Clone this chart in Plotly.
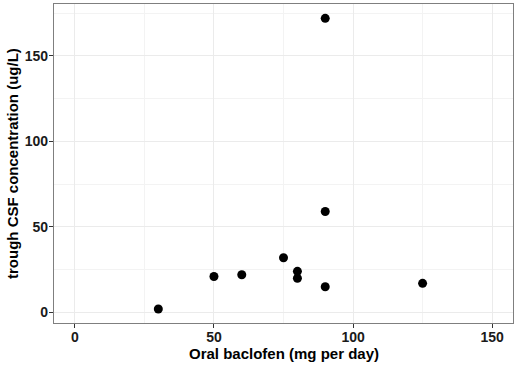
import plotly.graph_objects as go

dose_mg_per_day = [30, 50, 60, 75, 80, 80, 90, 90, 90, 125]
csf_ug_per_l = [2, 21, 22, 32, 24, 20, 59, 15, 172, 17]
x_ticks = [0, 50, 100, 150]
y_ticks = [0, 50, 100, 150]

FONT = "Liberation Sans, Arial, sans-serif"

fig = go.Figure(go.Scatter(
    x=dose_mg_per_day, y=csf_ug_per_l, mode="markers",
    marker=dict(color="black", size=9, line=dict(width=0)),
    showlegend=False,
))

axis_common = dict(
    automargin=False,
    showgrid=True, gridcolor="#EBEBEB", gridwidth=1.1,
    zeroline=False, showline=True, mirror=True,
    linecolor="#7f7f7f", linewidth=1.3,
    ticks="outside", ticklen=4, tickcolor="#333333", tickwidth=1.1,
    tickfont=dict(family=FONT, size=14, color="#1a1a1a", weight="bold"),
    minor=dict(showgrid=True, gridcolor="#F3F3F3", gridwidth=0.6, ticks=""),
)

fig.update_xaxes(
    **axis_common, range=[-7.5, 157.5], tickvals=x_ticks,
    ticktext=[str(v) for v in x_ticks], minor_dtick=25, minor_tick0=0,
    ticklabelstandoff=-3,
)
fig.update_yaxes(
    **axis_common, range=[-6.2, 180.4], tickvals=y_ticks,
    ticktext=[str(v) for v in y_ticks], minor_dtick=25, minor_tick0=0,
    ticklabelstandoff=-2,
)

title_font = dict(family=FONT, size=15, color="black", weight="bold")
fig.add_annotation(
    text="Oral baclofen (mg per day)", xref="paper", yref="paper",
    x=0.5, y=0, xanchor="center", yanchor="top", yshift=-20,
    showarrow=False, font=title_font,
)
fig.add_annotation(
    text="trough CSF concentration (ug/L)", xref="paper", yref="paper",
    x=0, y=0.5, xanchor="right", yanchor="middle", xshift=-31,
    textangle=-90, showarrow=False, font=title_font,
)

fig.update_layout(
    width=517, height=365,
    margin=dict(l=54, r=4, t=4, b=42),
    plot_bgcolor="white", paper_bgcolor="white",
)

fig.write_html(
    "out.html",
    config={"displayModeBar": False},
    post_script="document.body.style.margin='0';document.body.style.padding='0';",
)
